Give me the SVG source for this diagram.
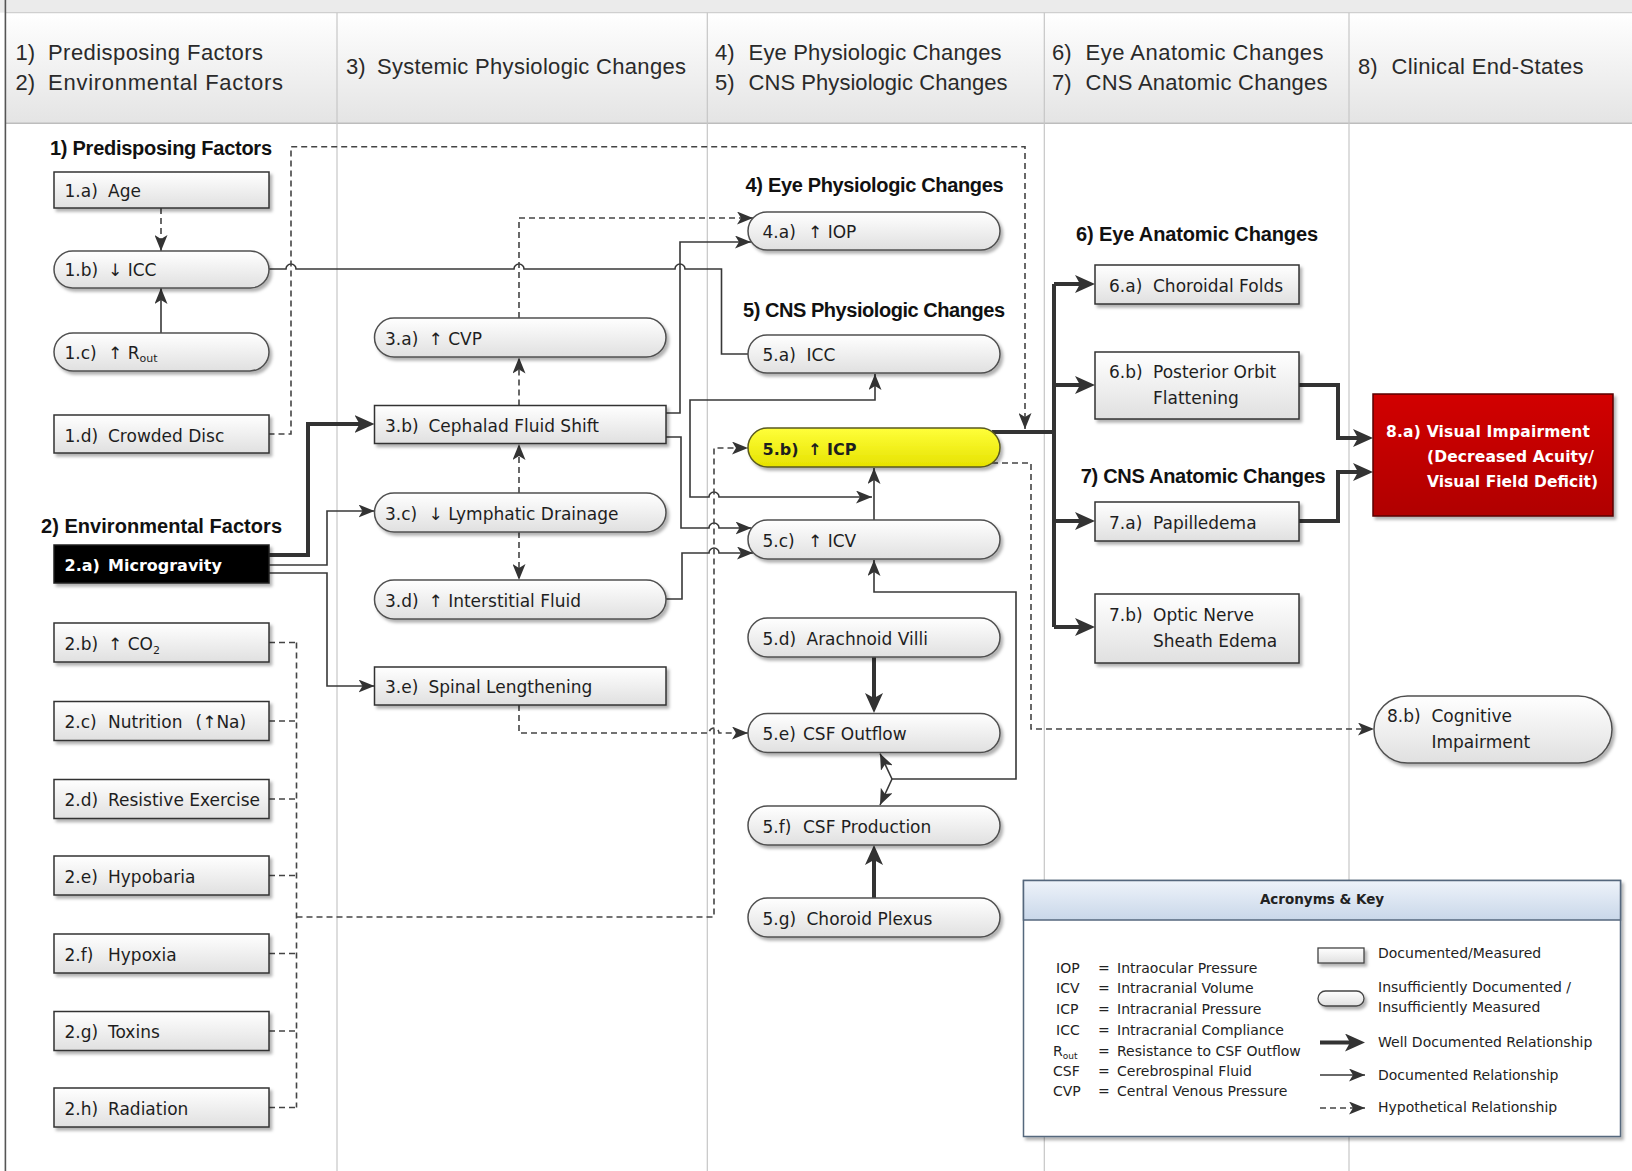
<svg xmlns="http://www.w3.org/2000/svg" width="1632" height="1171" viewBox="0 0 1632 1171">
<style>
.box{fill:url(#gBox);stroke:#333;stroke-width:1.5;filter:url(#sh)}
.pill{fill:url(#gBox);stroke:#505050;stroke-width:1.5;filter:url(#sh)}
.t{font-family:"DejaVu Sans",Verdana,sans-serif;font-size:17px;fill:#1e1e1e}
.sec{font-family:"Liberation Sans",Arial,sans-serif;font-weight:bold;font-size:20px;fill:#111}
.hdr{font-family:"Liberation Sans",Arial,sans-serif;font-size:22px;fill:#2a2a2a}
.lg{font-family:"DejaVu Sans",Verdana,sans-serif;font-size:14px;fill:#222}
.thin{fill:none;stroke:#383838;stroke-width:1.6}
.thick{fill:none;stroke:#333;stroke-width:4}
.dash{fill:none;stroke:#444;stroke-width:1.6;stroke-dasharray:6 4}
.div{stroke:#c6c6c6;stroke-width:1.2}
</style>
<defs>
<linearGradient id="gBox" x1="0" y1="0" x2="0" y2="1"><stop offset="0" stop-color="#ffffff"/><stop offset="1" stop-color="#e0e0e0"/></linearGradient>
<linearGradient id="gHdr" x1="0" y1="0" x2="0" y2="1"><stop offset="0" stop-color="#ffffff"/><stop offset="1" stop-color="#e4e4e4"/></linearGradient>
<linearGradient id="gYel" x1="0" y1="0" x2="0" y2="1"><stop offset="0" stop-color="#ffff3a"/><stop offset="1" stop-color="#e6e200"/></linearGradient>
<linearGradient id="gRed" x1="0" y1="0" x2="0" y2="1"><stop offset="0" stop-color="#d20000"/><stop offset="1" stop-color="#b00000"/></linearGradient>
<linearGradient id="gLeg" x1="0" y1="0" x2="0" y2="1"><stop offset="0" stop-color="#eef3fa"/><stop offset="1" stop-color="#c9d7e9"/></linearGradient>
<filter id="sh" x="-10%" y="-20%" width="130%" height="170%"><feDropShadow dx="2.5" dy="3" stdDeviation="1.5" flood-color="#000" flood-opacity="0.3"/></filter>
<marker id="aT" viewBox="0 0 16 13" markerWidth="16" markerHeight="13" refX="16" refY="6.5" orient="auto-start-reverse" markerUnits="userSpaceOnUse"><path d="M0,0 L16,6.5 L0,13 L4,6.5 z" fill="#333"/></marker>
<marker id="aK" viewBox="0 0 20 18" markerWidth="20" markerHeight="18" refX="12" refY="9" orient="auto-start-reverse" markerUnits="userSpaceOnUse"><path d="M0,0 L20,9 L0,18 L5,9 z" fill="#333"/></marker>
</defs>

<rect x="0" y="0" width="1632" height="1171" fill="#ffffff"/>
<g id="header">
<rect x="0" y="0" width="1632" height="12.7" fill="#ebebeb"/>
<rect x="5" y="12.7" width="1627" height="110.6" fill="url(#gHdr)"/>
<line x1="5" y1="12.7" x2="1632" y2="12.7" stroke="#cfcfcf" stroke-width="1.2"/>
<line x1="5" y1="123.3" x2="1632" y2="123.3" stroke="#bdbdbd" stroke-width="1.4"/>
<line x1="5.4" y1="0" x2="5.4" y2="1171" stroke="#555" stroke-width="1.6"/>
<line class="div" x1="337" y1="12.7" x2="337" y2="1171"/>
<line class="div" x1="707.3" y1="12.7" x2="707.3" y2="1171"/>
<line class="div" x1="1044.3" y1="12.7" x2="1044.3" y2="1171"/>
<line class="div" x1="1349" y1="12.7" x2="1349" y2="1171"/>
<text class="hdr" x="15.6" y="60">1)</text><text class="hdr" x="48" y="60" textLength="215">Predisposing Factors</text>
<text class="hdr" x="15.6" y="90">2)</text><text class="hdr" x="48" y="90" textLength="235">Environmental Factors</text>
<text class="hdr" x="346" y="74">3)</text><text class="hdr" x="377" y="74" textLength="309">Systemic Physiologic Changes</text>
<text class="hdr" x="715" y="60">4)</text><text class="hdr" x="748.6" y="60" textLength="253">Eye Physiologic Changes</text>
<text class="hdr" x="715" y="90">5)</text><text class="hdr" x="748.6" y="90" textLength="259">CNS Physiologic Changes</text>
<text class="hdr" x="1052" y="60">6)</text><text class="hdr" x="1085.6" y="60" textLength="238">Eye Anatomic Changes</text>
<text class="hdr" x="1052" y="90">7)</text><text class="hdr" x="1085.6" y="90" textLength="242">CNS Anatomic Changes</text>
<text class="hdr" x="1358" y="74">8)</text><text class="hdr" x="1391.6" y="74" textLength="192">Clinical End-States</text>
</g>

<g id="section-labels">
<text class="sec" x="50" y="155" textLength="222">1) Predisposing Factors</text>
<text class="sec" x="41" y="533" textLength="241">2) Environmental Factors</text>
<text class="sec" x="745.6" y="192" textLength="258">4) Eye Physiologic Changes</text>
<text class="sec" x="743" y="316.5" textLength="262">5) CNS Physiologic Changes</text>
<text class="sec" x="1076" y="240.5" textLength="242">6) Eye Anatomic Changes</text>
<text class="sec" x="1080.7" y="483" textLength="245">7) CNS Anatomic Changes</text>
</g>

<g id="connectors">
<path class="thin" d="M161,333 V288" marker-end="url(#aT)"/>
<path class="thin" d="M268.5,269 H286 A5,5 0 0 1 296,269 H514 A5,5 0 0 1 524,269 H675 A5,5 0 0 1 685,269 H721.5 V354 H748"/>
<path class="thin" d="M268.5,565 H327 V511 H374.5" marker-end="url(#aT)"/>
<path class="thin" d="M268.5,573 H327 V686 H374.5" marker-end="url(#aT)"/>
<path class="thin" d="M666,413 H680 V242 H751" marker-end="url(#aT)"/>
<path class="thin" d="M666,437 H681 V528 H709 A5,5 0 0 1 719,528 H751.5" marker-end="url(#aT)"/>
<path class="thin" d="M666,599 H682 V553 H709 A5,5 0 0 1 719,553 H753" marker-end="url(#aT)"/>
<path class="thin" d="M875,374 V400 H690 V497 H709 A5,5 0 0 1 719,497 H872" marker-start="url(#aT)" marker-end="url(#aT)"/>
<path class="thin" d="M874,520 V468" marker-end="url(#aT)"/>
<path class="thin" d="M892,779 H1016 V592 H874 V560" marker-end="url(#aT)"/>
<path class="thin" d="M892,779 L880,753.5" marker-end="url(#aT)"/>
<path class="thin" d="M892,779 L880,805" marker-end="url(#aT)"/>
<path class="thick" d="M268.5,555 H308 V424 H366.5" marker-end="url(#aK)"/>
<path class="thick" d="M874,657 V705" marker-end="url(#aK)"/>
<path class="thick" d="M874,898 V853" marker-end="url(#aK)"/>
<path class="thick" d="M992,432 H1054"/>
<path class="thick" d="M1054,284 V627"/>
<path class="thick" d="M1054,284 H1087" marker-end="url(#aK)"/>
<path class="thick" d="M1054,385 H1087" marker-end="url(#aK)"/>
<path class="thick" d="M1054,521 H1087" marker-end="url(#aK)"/>
<path class="thick" d="M1054,627 H1087" marker-end="url(#aK)"/>
<path class="thick" d="M1299,385 H1338 V438 H1365" marker-end="url(#aK)"/>
<path class="thick" d="M1299,521 H1338 V472 H1365" marker-end="url(#aK)"/>
<path class="dash" d="M161,208 V251" marker-end="url(#aT)"/>
<path class="dash" d="M268.5,434 H291 V146.7 H1025 V429" marker-end="url(#aT)"/>
<path class="dash" d="M519,405.5 V357.5" marker-end="url(#aT)"/>
<path class="dash" d="M519,493 V444" marker-end="url(#aT)"/>
<path class="dash" d="M519,532 V580" marker-end="url(#aT)"/>
<path class="dash" d="M519,318 V218 H753" marker-end="url(#aT)"/>
<path class="dash" d="M519,705 V733 H709 A5,5 0 0 1 719,733 H748" marker-end="url(#aT)"/>
<path class="dash" d="M269,642.5 H296.5 M269,721 H296.5 M269,799 H296.5 M269,875.5 H296.5 M269,953.5 H296.5 M269,1031 H296.5 M269,1107.5 H296.5 M296.5,642.5 V1107.5"/>
<path class="dash" d="M296.5,917 H714 V448 H748" marker-end="url(#aT)"/>
<path class="dash" d="M992,463 H1031 V729 H1374" marker-end="url(#aT)"/>
</g>

<g id="n1a"><rect class="box" x="54" y="172" width="215" height="36"/><text class="t" y="197"><tspan x="64.5">1.a)</tspan><tspan x="108">Age</tspan></text></g>
<g id="n1b"><rect class="pill" x="54" y="251" width="215" height="37" rx="18.5"/><text class="t" y="276"><tspan x="64.5">1.b)</tspan><tspan x="108">↓ ICC</tspan></text></g>
<g id="n1c"><rect class="pill" x="54" y="333" width="215" height="38" rx="19"/><text class="t" y="359"><tspan x="64.5">1.c)</tspan><tspan x="108">↑ R</tspan><tspan font-size="11" dy="3">out</tspan></text></g>
<g id="n1d"><rect class="box" x="54" y="415" width="215" height="38"/><text class="t" y="441.5"><tspan x="64.5">1.d)</tspan><tspan x="108">Crowded Disc</tspan></text></g>
<g id="n2a"><rect x="54" y="545" width="215" height="38" fill="#000" stroke="#222" stroke-width="1.5" filter="url(#sh)"/><text class="t" y="571" style="fill:#fff;font-weight:bold;font-size:16px"><tspan x="64.5">2.a)</tspan><tspan x="108">Microgravity</tspan></text></g>
<g id="n2b"><rect class="box" x="54" y="623" width="215" height="39"/><text class="t" y="649.5"><tspan x="64.5">2.b)</tspan><tspan x="108">↑ CO</tspan><tspan font-size="11" dy="4">2</tspan></text></g>
<g id="n2c"><rect class="box" x="54" y="701.5" width="215" height="39"/><text class="t" y="728"><tspan x="64.5">2.c)</tspan><tspan x="108">Nutrition</tspan><tspan x="195.5">(↑Na)</tspan></text></g>
<g id="n2d"><rect class="box" x="54" y="779.5" width="215" height="39"/><text class="t" y="806"><tspan x="64.5">2.d)</tspan><tspan x="108">Resistive Exercise</tspan></text></g>
<g id="n2e"><rect class="box" x="54" y="856" width="215" height="39"/><text class="t" y="882.5"><tspan x="64.5">2.e)</tspan><tspan x="108">Hypobaria</tspan></text></g>
<g id="n2f"><rect class="box" x="54" y="934" width="215" height="39"/><text class="t" y="960.5"><tspan x="64.5">2.f)</tspan><tspan x="108">Hypoxia</tspan></text></g>
<g id="n2g"><rect class="box" x="54" y="1011.5" width="215" height="39"/><text class="t" y="1038"><tspan x="64.5">2.g)</tspan><tspan x="108">Toxins</tspan></text></g>
<g id="n2h"><rect class="box" x="54" y="1088" width="215" height="39"/><text class="t" y="1114.5"><tspan x="64.5">2.h)</tspan><tspan x="108">Radiation</tspan></text></g>

<g id="n3a"><rect class="pill" x="374.5" y="318" width="291.5" height="39" rx="19.5"/><text class="t" y="344.5"><tspan x="385">3.a)</tspan><tspan x="428.5">↑ CVP</tspan></text></g>
<g id="n3b"><rect class="box" x="374.5" y="405.5" width="291.5" height="38"/><text class="t" y="431.5"><tspan x="385">3.b)</tspan><tspan x="428.5">Cephalad Fluid Shift</tspan></text></g>
<g id="n3c"><rect class="pill" x="374.5" y="493" width="291.5" height="39" rx="19.5"/><text class="t" y="519.5"><tspan x="385">3.c)</tspan><tspan x="428.5">↓ Lymphatic Drainage</tspan></text></g>
<g id="n3d"><rect class="pill" x="374.5" y="580" width="291.5" height="39" rx="19.5"/><text class="t" y="606.5"><tspan x="385">3.d)</tspan><tspan x="428.5">↑ Interstitial Fluid</tspan></text></g>
<g id="n3e"><rect class="box" x="374.5" y="667" width="291.5" height="38"/><text class="t" y="693"><tspan x="385">3.e)</tspan><tspan x="428.5">Spinal Lengthening</tspan></text></g>

<g id="n4a"><rect class="pill" x="748" y="212" width="252" height="38" rx="19"/><text class="t" y="238"><tspan x="762.5">4.a)</tspan><tspan x="808">↑ IOP</tspan></text></g>
<g id="n5a"><rect class="pill" x="748" y="335" width="252" height="38" rx="19"/><text class="t" y="361"><tspan x="762.5">5.a)</tspan><tspan x="806.5">ICC</tspan></text></g>
<g id="n5b"><rect x="748" y="428" width="252" height="39" rx="19.5" fill="url(#gYel)" stroke="#5a5a20" stroke-width="1.5" filter="url(#sh)"/><text class="t" y="454.5" style="font-weight:bold;font-size:16px"><tspan x="762.5">5.b)</tspan><tspan x="808">↑ ICP</tspan></text></g>
<g id="n5c"><rect class="pill" x="748" y="520" width="252" height="39" rx="19.5"/><text class="t" y="546.5"><tspan x="762.5">5.c)</tspan><tspan x="808">↑ ICV</tspan></text></g>
<g id="n5d"><rect class="pill" x="748" y="618" width="252" height="39" rx="19.5"/><text class="t" y="644.5"><tspan x="762.5">5.d)</tspan><tspan x="806.5">Arachnoid Villi</tspan></text></g>
<g id="n5e"><rect class="pill" x="748" y="713.5" width="252" height="39" rx="19.5"/><text class="t" y="740"><tspan x="762.5">5.e)</tspan><tspan x="803">CSF Outflow</tspan></text></g>
<g id="n5f"><rect class="pill" x="748" y="806" width="252" height="39" rx="19.5"/><text class="t" y="832.5"><tspan x="762.5">5.f)</tspan><tspan x="803">CSF Production</tspan></text></g>
<g id="n5g"><rect class="pill" x="748" y="898" width="252" height="39" rx="19.5"/><text class="t" y="924.5"><tspan x="762.5">5.g)</tspan><tspan x="806.5">Choroid Plexus</tspan></text></g>

<g id="n6a"><rect class="box" x="1095" y="265" width="204" height="39"/><text class="t" y="291.5"><tspan x="1109">6.a)</tspan><tspan x="1153">Choroidal Folds</tspan></text></g>
<g id="n6b"><rect class="box" x="1095" y="352" width="204" height="67"/><text class="t" y="378"><tspan x="1109">6.b)</tspan><tspan x="1153">Posterior Orbit</tspan></text><text class="t" x="1153" y="404">Flattening</text></g>
<g id="n7a"><rect class="box" x="1095" y="502" width="204" height="39"/><text class="t" y="528.5"><tspan x="1109">7.a)</tspan><tspan x="1153">Papilledema</tspan></text></g>
<g id="n7b"><rect class="box" x="1095" y="594" width="204" height="69"/><text class="t" y="621"><tspan x="1109">7.b)</tspan><tspan x="1153">Optic Nerve</tspan></text><text class="t" x="1153" y="647">Sheath Edema</text></g>

<g id="n8a"><rect x="1373" y="394" width="240" height="122" fill="url(#gRed)" stroke="#5a0000" stroke-width="1.5" filter="url(#sh)"/>
<text class="t" style="fill:#fff;font-weight:bold;font-size:15.5px" x="1386" y="437" textLength="204">8.a) Visual Impairment</text>
<text class="t" style="fill:#fff;font-weight:bold;font-size:15.5px" x="1427" y="462" textLength="167">(Decreased Acuity/</text>
<text class="t" style="fill:#fff;font-weight:bold;font-size:15.5px" x="1427" y="487" textLength="171">Visual Field Deficit)</text></g>
<g id="n8b"><rect class="pill" x="1374" y="696" width="238" height="67" rx="33.5"/><text class="t" y="722"><tspan x="1387">8.b)</tspan><tspan x="1431.5">Cognitive</tspan></text><text class="t" x="1431.5" y="748">Impairment</text></g>

<g id="legend">
<rect x="1023.5" y="880.5" width="597" height="256" fill="#fff" stroke="#55677d" stroke-width="1.5" filter="url(#sh)"/>
<rect x="1023.5" y="880.5" width="597" height="39.5" fill="url(#gLeg)" stroke="#55677d" stroke-width="1.5"/>
<text class="lg" x="1322" y="904" text-anchor="middle" style="font-weight:bold;font-size:13.5px">Acronyms &amp; Key</text>
<text class="lg" x="1056" y="973">IOP</text><text class="lg" x="1098" y="973">=</text><text class="lg" x="1117" y="973">Intraocular Pressure</text>
<text class="lg" x="1056" y="993">ICV</text><text class="lg" x="1098" y="993">=</text><text class="lg" x="1117" y="993">Intracranial Volume</text>
<text class="lg" x="1056" y="1014">ICP</text><text class="lg" x="1098" y="1014">=</text><text class="lg" x="1117" y="1014">Intracranial Pressure</text>
<text class="lg" x="1056" y="1035">ICC</text><text class="lg" x="1098" y="1035">=</text><text class="lg" x="1117" y="1035">Intracranial Compliance</text>
<text class="lg" x="1053" y="1055.5">R<tspan font-size="9" dy="3">out</tspan></text><text class="lg" x="1098" y="1055.5">=</text><text class="lg" x="1117" y="1055.5">Resistance to CSF Outflow</text>
<text class="lg" x="1053" y="1076">CSF</text><text class="lg" x="1098" y="1076">=</text><text class="lg" x="1117" y="1076">Cerebrospinal Fluid</text>
<text class="lg" x="1053" y="1096">CVP</text><text class="lg" x="1098" y="1096">=</text><text class="lg" x="1117" y="1096">Central Venous Pressure</text>
<rect x="1318" y="948" width="46" height="15" fill="url(#gBox)" stroke="#444" stroke-width="1.3" filter="url(#sh)"/>
<rect x="1318" y="991" width="46" height="15" rx="7.5" fill="url(#gBox)" stroke="#444" stroke-width="1.3" filter="url(#sh)"/>
<path class="thick" d="M1320,1042.5 H1357" marker-end="url(#aK)"/>
<path class="thin" d="M1320,1075 H1365" marker-end="url(#aT)"/>
<path class="dash" d="M1320,1108 H1365" marker-end="url(#aT)"/>
<text class="lg" x="1378" y="958">Documented/Measured</text>
<text class="lg" x="1378" y="991.5">Insufficiently Documented /</text>
<text class="lg" x="1378" y="1011.5">Insufficiently Measured</text>
<text class="lg" x="1378" y="1047">Well Documented Relationship</text>
<text class="lg" x="1378" y="1080">Documented Relationship</text>
<text class="lg" x="1378" y="1112">Hypothetical Relationship</text>
</g>
</svg>
